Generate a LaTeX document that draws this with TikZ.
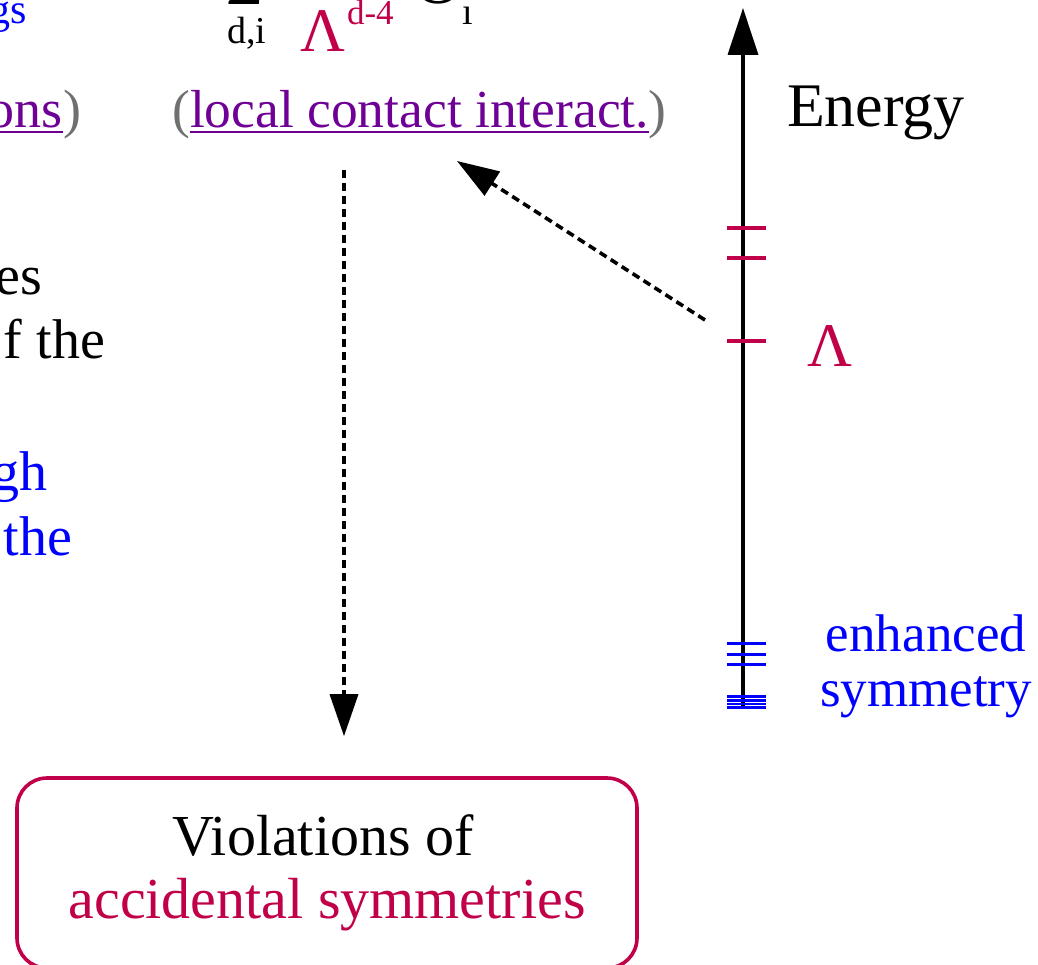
\documentclass[tikz,border=0pt]{standalone}
\usepackage{fontspec}
\setmainfont{Liberation Serif}
\usetikzlibrary{arrows.meta}
\definecolor{crim}{RGB}{192,0,72}
\definecolor{blu}{RGB}{0,0,255}
\definecolor{purp}{RGB}{110,0,150}
\definecolor{grayp}{RGB}{112,112,112}
\newcommand{\myfs}[1]{\fontsize{#1pt}{#1pt}\selectfont}
\begin{document}
\begin{tikzpicture}[x=1pt,y=-1pt,
  txt/.style={inner sep=0pt, outer sep=0pt},
  axisline/.style={line width=3.6pt},
  redtick/.style={crim, line width=3.8pt},
  bluetick/.style={blu, line width=3pt},
  dasharrow/.style={line width=3.6pt, dash pattern=on 8pt off 5pt, -{Triangle[length=42pt,width=28pt]}},
  ulinep/.style={purp, line width=2.6pt},
  boxstyle/.style={draw=crim, line width=3.6pt, rounded corners=30pt, minimum width=620pt, minimum height=190pt, inner sep=0pt}
]
\useasboundingbox (0,0) rectangle (1038,965);
\clip (0,0) rectangle (1038,965);

% top-left fragments
\node[txt, anchor=base east, text=blu] (gs) at (27,24) {\myfs{42}gs};
\node[txt, anchor=base east, text=purp] (ons) at (63,128) {\myfs{54}ons};
\node[txt, anchor=base west, text=grayp] (onsr) at (ons.base east) {\myfs{54})};
\draw[ulinep] ([yshift=-4pt]ons.base west) -- ([yshift=-4pt]ons.base east);

% formula fragment
\node[txt, anchor=base] (sig) at (245,5) {\myfs{63}Σ};
\node[txt, anchor=base] (di) at (247,44) {\myfs{38}d,i};
\node[txt, anchor=base west, text=crim] (lam) at (300,52) {\myfs{62}Λ};
\node[txt, anchor=base west, text=crim] (expo) at (347,25) {\myfs{35}d-4};
\node[txt, anchor=base] (opO) at (438,4) {\myfs{66}O};
\node[txt, anchor=base] (opsub) at (468,25) {\myfs{38}ı};

% local contact interactions
\node[txt, anchor=base west, text=purp] (lca) at (190,128) {\myfs{53.5}local contact interact.};
\node[txt, anchor=base east, text=grayp] (lcal) at (lca.base west) {\myfs{53.5}(};
\node[txt, anchor=base west, text=grayp] (lcar) at (lca.base east) {\myfs{53.5})};
\draw[ulinep] ([yshift=-4pt]lca.base west) -- ([yshift=-4pt]lca.base east);

% left text fragments
\node[txt, anchor=base east] (l1) at (42,295) {\myfs{56}es};
\node[txt, anchor=base east] (l2) at (105,358) {\myfs{56}f the};
\node[txt, anchor=base east, text=blu] (l3) at (47,490) {\myfs{56}gh};
\node[txt, anchor=base east, text=blu] (l4) at (72,555) {\myfs{56}the};

% energy axis
\coordinate (abot) at (743,709);
\coordinate (atop) at (743,8);
\draw[axisline, -{Triangle[length=47pt,width=30pt]}] (abot) -- (atop);
\node[txt, anchor=base west] (energy) at (787,127) {\myfs{62}Energy};

\foreach \yy in {228,258,341} \draw[redtick] (727,\yy) -- (766,\yy);
\foreach \yy in {643,654,664} \draw[bluetick] (727,\yy) -- (766,\yy);
\foreach \yy in {696.5,700.5,704,707.5} \draw[blu, line width=2.4pt] (727,\yy) -- (766,\yy);

\node[txt, anchor=base, text=crim] (lamlab) at (830,366) {\myfs{62}Λ};
\node[txt, anchor=base, text=blu] (enh1) at (926,651) {\myfs{53}enhanced};
\node[txt, anchor=base, text=blu] (enh2) at (926,706) {\myfs{53}symmetry};

% violations box
\node[boxstyle] (box) at (327,873) {};
\node[txt, anchor=base] (v1) at (323,855) {\myfs{58}Violations of};
\node[txt, anchor=base, text=crim] (v2) at (327,918) {\myfs{58}accidental symmetries};

% dashed arrows
\coordinate (vs) at (344,170);
\draw[dasharrow, shorten >=40pt] (vs) -- (vs |- box.north);
\coordinate (ds) at (705,320);
\coordinate (de) at (457,161);
\draw[dasharrow] (ds) -- (de);
\end{tikzpicture}
\end{document}
